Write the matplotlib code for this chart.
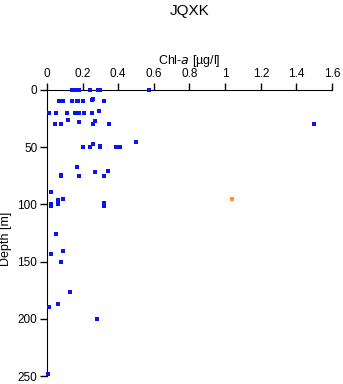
import numpy as np
from matplotlib import pyplot as plt

plt.rcParams['font.family'] = ['Liberation Sans', 'DejaVu Sans']

# Chl-a [ug/l] vs profundidad [m]
chl = [0.14, 0.16, 0.178, 0.24, 0.288, 0.298, 0.571,
       0.065, 0.075, 0.088, 0.14, 0.169, 0.174, 0.202, 0.253, 0.259, 0.318,
       0.009, 0.05, 0.112, 0.159, 0.169, 0.178, 0.21, 0.25, 0.29,
       0.118, 0.178, 0.268,
       0.047, 0.077, 0.256, 0.346, 1.499,
       0.498, 0.258,
       0.2, 0.24, 0.298, 0.298, 0.388, 0.408,
       0.167, 0.268, 0.341,
       0.077, 0.077, 0.178, 0.318,
       0.02, 0.06, 0.088,
       0.02, 0.02, 0.06, 0.318, 0.318,
       0.048, 0.088, 0.02, 0.079, 0.127,
       0.06, 0.01, 0.279, 0.003]
prof = [0, 0, 0, 0, 0, 0, 0,
        10, 10, 10, 10, 10, 10, 10, 9, 8, 10,
        20, 20, 20, 20, 20, 20, 20, 20, 18,
        26.6, 27.7, 27,
        30, 30, 30, 30, 30,
        45.3, 47.4,
        50, 50, 50, 49, 50, 50,
        67, 72, 71,
        75, 74, 75, 75.5,
        89.5, 96, 95,
        99.5, 101, 100, 99, 101,
        126, 140.4, 143, 150, 177,
        187, 190, 200, 248]

chl_out = [1.04]
prof_out = [95]

fig = plt.figure(figsize=(3.43, 3.84), dpi=100)
ax = fig.add_axes([47/343, 8/384, 285/343, 286/384])

ax.plot(chl, prof, 's', color='#0a14f0', markersize=2.2, markeredgewidth=0,
        clip_on=False, zorder=5)
ax.plot(chl_out, prof_out, 's', color='#f0a020', markersize=2.2, markeredgewidth=0,
        clip_on=False, zorder=5)

ax.set_xlim(0, 1.6)
ax.set_ylim(250, 0)
ax.set_xticks(np.arange(0, 1.61, 0.2))
ax.set_xticklabels(['0', '0.2', '0.4', '0.6', '0.8', '1', '1.2', '1.4', '1.6'])
ax.set_yticks([0, 50, 100, 150, 200, 250])

ax.xaxis.tick_top()
ax.xaxis.set_label_position('top')
ax.spines['bottom'].set_visible(False)
ax.spines['right'].set_visible(False)
ax.tick_params(axis='both', direction='out', length=5, width=1, labelsize=8.5, pad=2)

ax.set_xlabel('Chl-$\\it{a}$ [µg/l]', fontsize=9, labelpad=3)
ax.set_ylabel('Depth [m]', fontsize=9)
ax.yaxis.set_label_coords(-0.123, 0.479)

fig.text(190/343, 1 - 11/384, 'JQXK', ha='center', va='center', fontsize=11)

fig.savefig('out.png', dpi=100)
